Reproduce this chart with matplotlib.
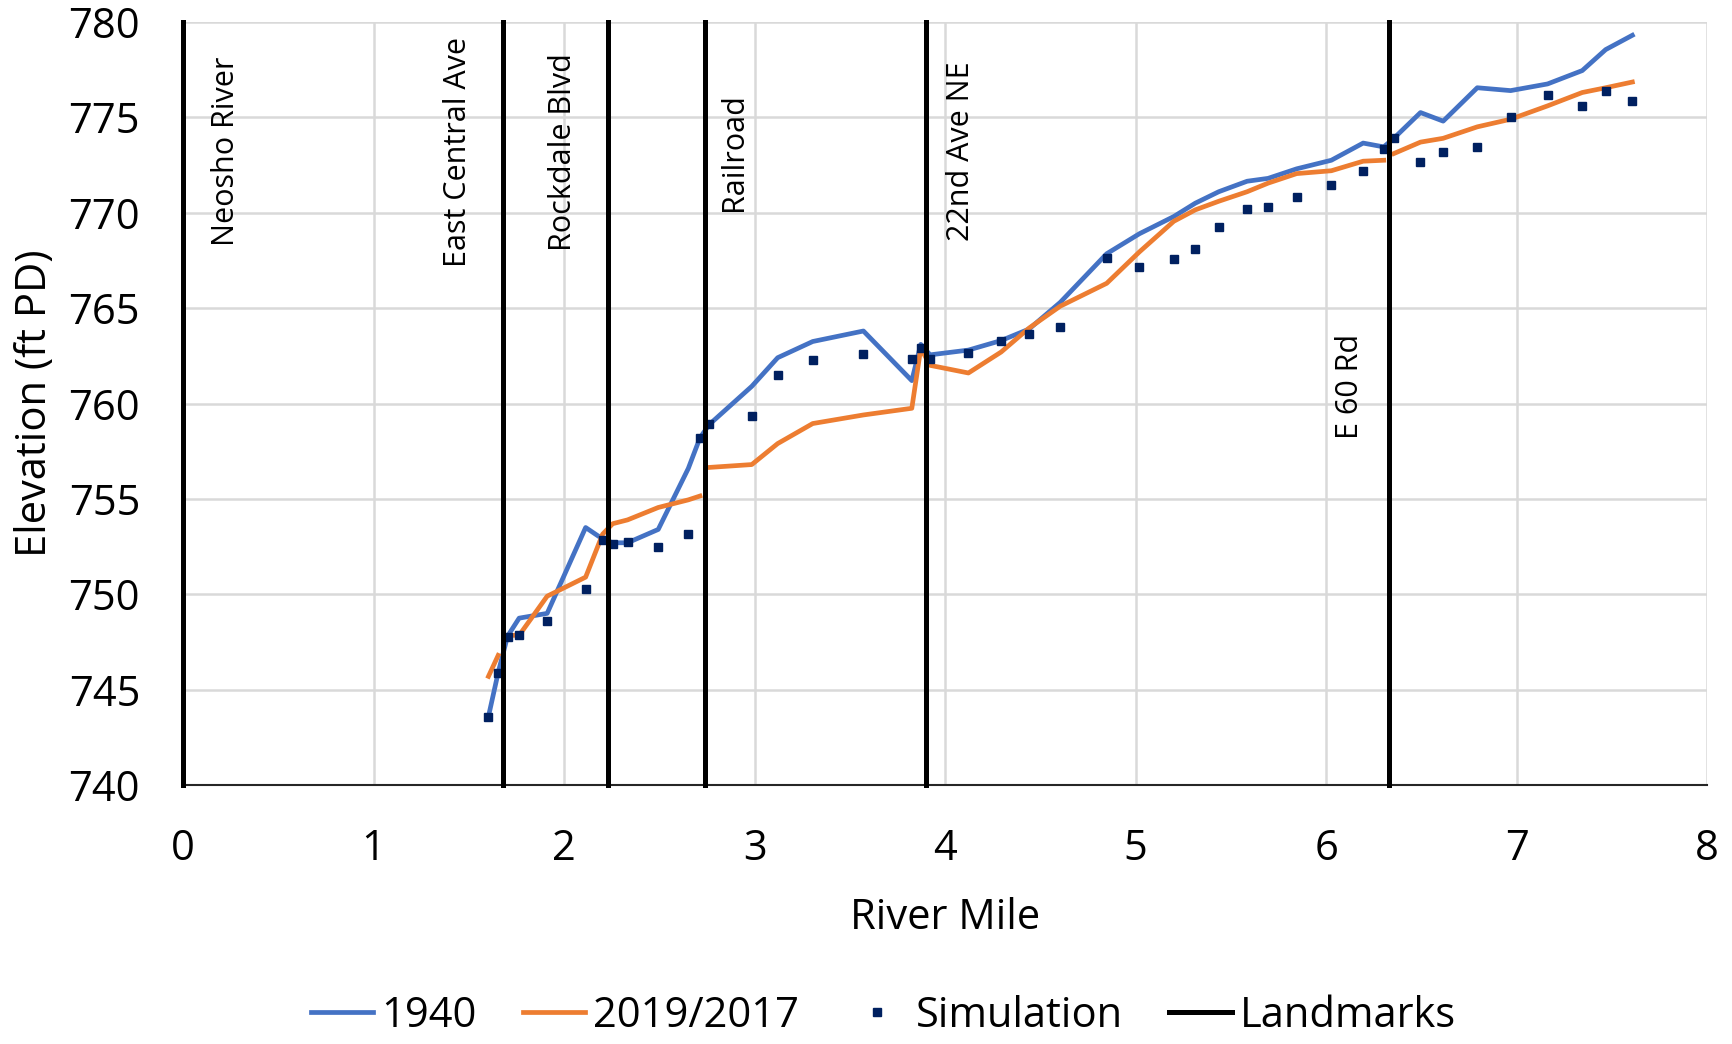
import numpy as np
import matplotlib
matplotlib.use('Agg')
import matplotlib.pyplot as plt

plt.rcParams['font.family'] = ['Open Sans', 'DejaVu Sans']

# river mile stations (shared by all series)
river_mile = [1.603, 1.654, 1.703, 1.764, 1.911, 2.113, 2.202, 2.255, 2.333, 2.494,
              2.652, 2.713, 2.762, 2.985, 3.121, 3.305, 3.571, 3.825, 3.872, 3.921,
              4.122, 4.294, 4.44, 4.604, 4.848, 5.02, 5.20, 5.313, 5.436, 5.585,
              5.695, 5.845, 6.027, 6.194, 6.302, 6.355, 6.495, 6.614, 6.793, 6.968,
              7.162, 7.344, 7.467, 7.607]

elev_1940 = [743.6, 745.9, 747.8, 748.75, 749.0, 753.5, 752.9, 752.7, 752.7, 753.4,
             756.6, 758.2, 758.9, 760.9, 762.4, 763.25, 763.8, 761.2, 763.1, 762.55,
             762.8, 763.3, 763.9, 765.3, 767.85, 768.9, 769.8, 770.5, 771.1, 771.65,
             771.8, 772.3, 772.75, 773.65, 773.45, 773.9, 775.25, 774.8, 776.55, 776.4,
             776.75, 777.45, 778.55, 779.3]

elev_2019 = [745.7, 746.8, 747.85, 747.85, 749.9, 750.9, 753.15, 753.7, 753.9, 754.55,
             754.95, 755.15, 756.65, 756.8, 757.9, 758.95, 759.4, 759.75, 762.9, 762.0,
             761.6, 762.7, 763.95, 765.1, 766.3, 767.95, 769.55, 770.15, 770.6, 771.1,
             771.55, 772.05, 772.2, 772.7, 772.75, 773.1, 773.7, 773.9, 774.5, 774.9,
             775.6, 776.3, 776.55, 776.85]
# the 2019/2017 line is broken at these landmarks
breaks_2019 = [1.68, 2.74, 6.33]

elev_sim = [743.55, 745.9, 747.75, 747.85, 748.6, 750.3, 752.85, 752.65, 752.75, 752.5,
            753.15, 758.2, 758.9, 759.35, 761.5, 762.3, 762.6, 762.35, 762.9, 762.35,
            762.65, 763.25, 763.65, 764.0, 767.65, 767.15, 767.6, 768.1, 769.25, 770.2,
            770.3, 770.8, 771.45, 772.2, 773.35, 773.9, 772.65, 773.2, 773.45, 775.0,
            776.15, 775.6, 776.4, 775.85]

landmark_rm = [0, 1.68, 2.23, 2.74, 3.90, 6.33]
landmark_names = ['Neosho River', 'East Central Ave', 'Rockdale Blvd', 'Railroad',
                  '22nd Ave NE', 'E 60 Rd']
label_x = [0.226, 1.444, 1.995, 2.894, 4.084, 6.126]
label_y = [773.2, 773.2, 773.2, 773.2, 773.2, 760.9]

rm = np.array(river_mile)
idx = np.searchsorted(rm, breaks_2019)
rm_2019 = np.insert(rm, idx, np.nan)
el_2019 = np.insert(np.array(elev_2019), idx, np.nan)

fig = plt.figure(figsize=(17.32, 10.44), dpi=100)
ax = fig.add_axes([0.1057, 0.248, 0.88, 0.731])

ax.plot(river_mile, elev_1940, color='#4472C4', lw=3.4, label='1940', zorder=3)
ax.plot(rm_2019, el_2019, color='#ED7D31', lw=3.4, label='2019/2017', zorder=3)
ax.plot(river_mile, elev_sim, ls='none', marker='s', ms=5.5, color='#002060',
        label='Simulation', zorder=4)

# landmarks as vertical segments
lx, ly = [], []
for x in landmark_rm:
    lx += [x, x, np.nan]
    ly += [740, 780, np.nan]
ax.plot(lx, ly, color='black', lw=3.6, label='Landmarks', zorder=5, clip_on=False)

for name, x, y in zip(landmark_names, label_x, label_y):
    ax.text(x, y, name, rotation=90, ha='center', va='center', fontsize=22)

ax.set_xlim(0, 8)
ax.set_ylim(740, 780)
ax.set_xticks(range(0, 9))
ax.set_yticks(range(740, 781, 5))
ax.tick_params(length=0, labelsize=30, pad=31)
ax.grid(True, color='#d9d9d9', lw=1.8)
ax.set_axisbelow(True)
for s in ['top', 'right', 'left']:
    ax.spines[s].set_visible(False)
ax.spines['bottom'].set_color('#262626')
ax.spines['bottom'].set_linewidth(1.5)

ax.set_xlabel('River Mile', fontsize=30, labelpad=19)
ax.set_ylabel('Elevation (ft PD)', fontsize=30, labelpad=9)

fig.legend(loc='center', bbox_to_anchor=(0.51, 0.027), ncol=4, frameon=False,
           fontsize=30, handlelength=1.5, handletextpad=0.2, columnspacing=1.1)

plt.savefig('out.png')
